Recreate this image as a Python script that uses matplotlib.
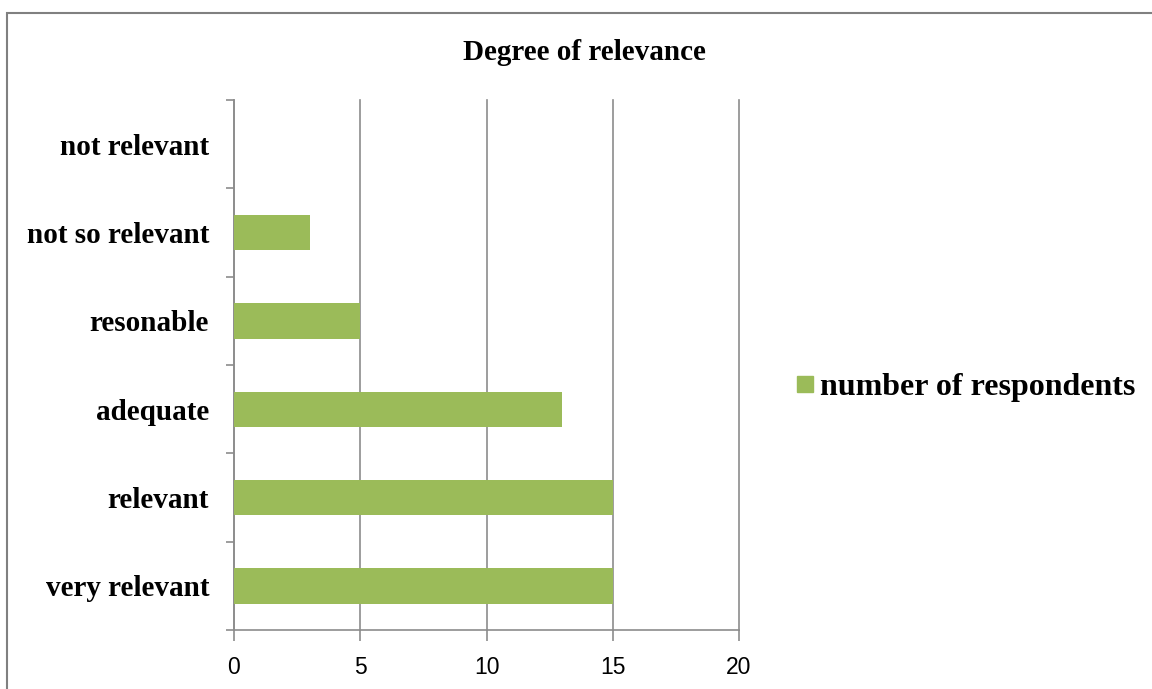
import matplotlib.pyplot as plt
from matplotlib.patches import Rectangle

categories = ['very relevant', 'relevant', 'adequate', 'resonable',
              'not so relevant', 'not relevant']
respondents = [15, 15, 13, 5, 3, 0]
x_ticks = [0, 5, 10, 15, 20]

bar_color = '#9BBB59'
grid_color = '#8C8C8C'
serif = 'Liberation Serif'

fig = plt.figure(figsize=(11.52, 6.89), dpi=100)
ax = fig.add_axes([234 / 1152, 1 - 630 / 689, 505 / 1152, 530 / 689])

# outer chart frame
fig.add_artist(Rectangle((7 / 1152, -0.05), 1.2, 1 - 13 / 689 + 0.05,
                         transform=fig.transFigure, fill=False,
                         edgecolor='#808080', linewidth=1.5))

pos = list(range(len(categories)))
ax.barh(pos, respondents, height=0.4, color=bar_color, zorder=3)

ax.set_xlim(0, 20)
ax.set_ylim(-0.5, len(categories) - 0.5)
ax.set_xticks(x_ticks)
ax.set_xticklabels([str(t) for t in x_ticks], fontsize=16.5,
                   family='Liberation Sans')
ax.xaxis.grid(True, color=grid_color, linewidth=1.2, zorder=0)
for gl in ax.get_xgridlines():
    gl.set_clip_on(False)
ax.set_axisbelow(True)

ax.set_yticks(pos)
ax.set_yticklabels(categories, fontsize=21, family=serif, fontweight='bold')
ax.set_yticks([p - 0.5 for p in pos] + [len(categories) - 0.5], minor=True)
ax.tick_params(axis='y', which='major', length=0, pad=18)
ax.tick_params(axis='y', which='minor', length=6, color=grid_color, width=1.2)
ax.tick_params(axis='x', length=8, color=grid_color, width=1.2, pad=11)

for side in ['top', 'right']:
    ax.spines[side].set_visible(False)
for side in ['left', 'bottom']:
    ax.spines[side].set_color(grid_color)
    ax.spines[side].set_linewidth(1.2)

fig.text(584 / 1152, 1 - 52 / 689, 'Degree of relevance', ha='center',
         va='center', fontsize=21, family=serif, fontweight='bold')

# legend entry
fig.add_artist(Rectangle((797 / 1152, 1 - 392 / 689), 16 / 1152, 16 / 689,
                         transform=fig.transFigure, color=bar_color))
fig.text(820 / 1152, 1 - 387 / 689, 'number of respondents', ha='left',
         va='center', fontsize=23, family=serif, fontweight='bold')

fig.savefig('out.png', dpi=100)
